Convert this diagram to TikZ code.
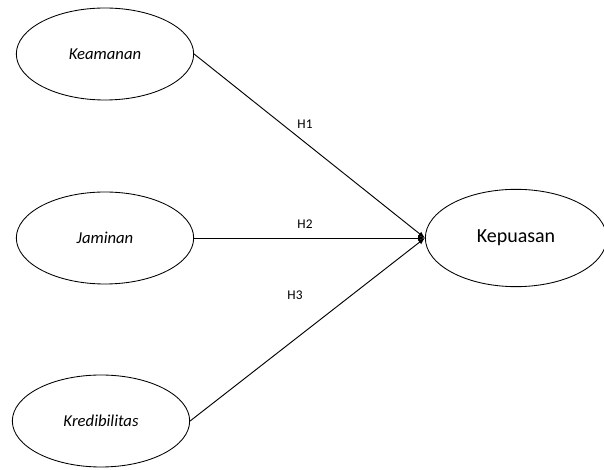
\documentclass[tikz,border=0pt]{standalone}
\usepackage{fontspec}
\setmainfont{Carlito}
\usetikzlibrary{shapes.geometric, arrows.meta}

\begin{document}
\begin{tikzpicture}[x=0.75pt, y=-0.75pt,
    var/.style={draw, ellipse, line width=0.65pt, minimum width=133pt, minimum height=69pt, inner sep=0pt},
    hyp/.style={font=\fontsize{10}{12}\selectfont},
    path/.style={line width=0.7pt, -{Latex[length=5pt, width=4pt]}}]

\useasboundingbox (0,0) rectangle (604,470);

% Variables
\node[var, font=\itshape\fontsize{12.5}{14}\selectfont] (keamanan) at (105,54) {Keamanan};
\node[var, font=\itshape\fontsize{12.5}{14}\selectfont] (jaminan) at (105,238) {Jaminan};
\node[var, font=\itshape\fontsize{12.5}{14}\selectfont] (kredibilitas) at (101,421) {Kredibilitas};
\node[var, minimum width=136pt, minimum height=73pt, font=\fontsize{15}{17}\selectfont] (kepuasan) at (516,238) {Kepuasan};

% Hypotheses
\draw[path] (keamanan.east) -- (kepuasan.west);
\draw[path] (jaminan.east) -- (kepuasan.west);
\draw[path] (kredibilitas.east) -- (kepuasan.west);

\node[hyp] (h1) at (305,124) {H1};
\node[hyp] (h2) at (305,224) {H2};
\node[hyp] (h3) at (295,295) {H3};

\end{tikzpicture}
\end{document}
